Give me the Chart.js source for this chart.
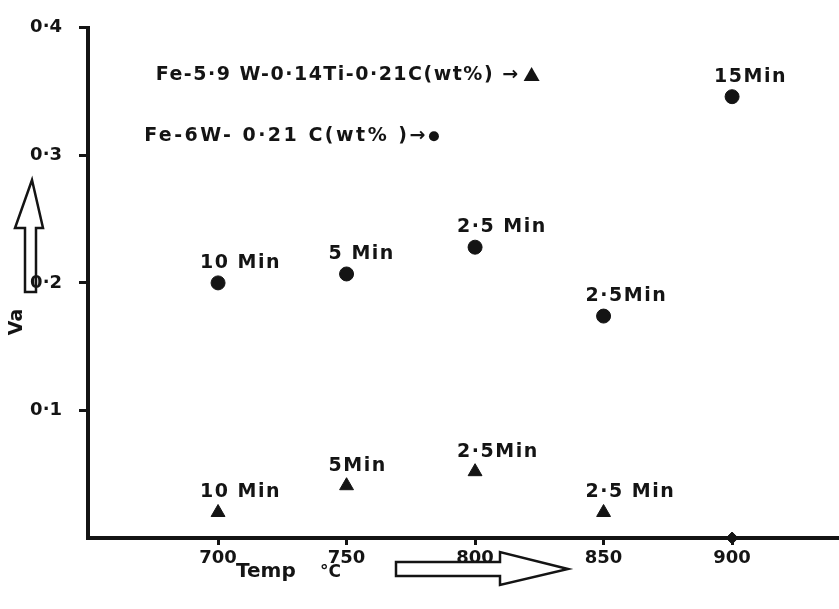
<!DOCTYPE html>
<html>
<head>
<meta charset="utf-8">
<script src="https://cdn.jsdelivr.net/npm/chart.js@4"></script>
<style>
  html, body { margin: 0; padding: 0; background: #fff; overflow: hidden; }
  canvas { display: block; }
</style>
</head>
<body>
<canvas id="grafico_va" width="839" height="609"></canvas>
<script>
// temperaturas (°C)
const temps_circulo = [700, 750, 800, 850, 900];
const va_circulo = [0.200, 0.207, 0.228, 0.174, 0.346];
const rotulos_circulo = ['10 Min', '5 Min', '2·5 Min', '2·5Min', '15Min'];

const temps_triangulo = [700, 750, 800, 850, 900];
const va_triangulo = [0.020, 0.041, 0.052, 0.020, 0.000];
const rotulos_triangulo = ['10 Min', '5Min', '2·5Min', '2·5 Min', ''];

const ticks_x = [700, 750, 800, 850, 900];
const ticks_y = [0.1, 0.2, 0.3, 0.4];

const legenda_textos = ['Fe-5·9 W-0·14Ti-0·21C(wt%) →', 'Fe-6W- 0·21 C(wt% )→'];
const legenda_pos = [[822, 0.363], [784, 0.315]];

const tinta = '#141414';
const fonte = 'bold 19px "DejaVu Sans", sans-serif';

const pontos = (xs, ys) => xs.map((x, i) => ({ x: x, y: ys[i] }));

const plugin_anotacoes = {
    id: 'anotacoes',
    afterDatasetsDraw(chart) {
        const ctx = chart.ctx;
        const sx = chart.scales.x, sy = chart.scales.y;
        ctx.save();
        ctx.fillStyle = tinta;
        ctx.strokeStyle = tinta;
        ctx.font = fonte;
        ctx.letterSpacing = '1.5px';
        ctx.textAlign = 'left';
        ctx.textBaseline = 'alphabetic';

        // rotulos dos pontos
        const rotulos = [rotulos_circulo, rotulos_triangulo];
        chart.data.datasets.forEach((ds, d) => {
            chart.getDatasetMeta(d).data.forEach((el, i) => {
                const txt = rotulos[d][i];
                if (txt) ctx.fillText(txt, el.x - 18, el.y - 15);
            });
        });

        // legenda escrita no grafico
        ctx.textAlign = 'right';
        ctx.textBaseline = 'middle';
        ctx.font = 'bold 19px "DejaVu Sans", sans-serif';
        legenda_pos.forEach((p, i) => {
            const px = sx.getPixelForValue(p[0]);
            const py = sy.getPixelForValue(p[1]);
            ctx.letterSpacing = i === 0 ? '1.5px' : '2.5px';
            ctx.fillText(legenda_textos[i], px - (i === 0 ? 12 : 6), py);
            ctx.beginPath();
            if (i === 0) {
                ctx.moveTo(px, py - 8);
                ctx.lineTo(px + 8, py + 6);
                ctx.lineTo(px - 8, py + 6);
                ctx.closePath();
            } else {
                ctx.arc(px, py, 5, 0, Math.PI * 2);
            }
            ctx.fill();
        });

        // titulos dos eixos
        ctx.letterSpacing = '0px';
        ctx.textAlign = 'left';
        ctx.textBaseline = 'alphabetic';
        ctx.font = 'bold 20px "DejaVu Sans", sans-serif';
        ctx.fillText('Temp', 236, 577);
        ctx.font = 'bold 17px "DejaVu Sans", sans-serif';
        ctx.fillText('°C', 320, 577);
        ctx.font = 'bold 19px "DejaVu Sans", sans-serif';
        ctx.save();
        ctx.translate(22, 322);
        ctx.rotate(-Math.PI / 2);
        ctx.textAlign = 'center';
        ctx.fillText('Va', 0, 0);
        ctx.restore();

        // setas
        ctx.lineWidth = 2.5;
        ctx.beginPath();
        ctx.moveTo(25, 292); ctx.lineTo(25, 228); ctx.lineTo(15, 228);
        ctx.lineTo(32, 180); ctx.lineTo(43, 228); ctx.lineTo(36, 228);
        ctx.lineTo(36, 292); ctx.closePath();
        ctx.stroke();
        ctx.beginPath();
        ctx.moveTo(396, 562); ctx.lineTo(500, 562); ctx.lineTo(500, 552);
        ctx.lineTo(568, 569); ctx.lineTo(500, 585); ctx.lineTo(500, 576);
        ctx.lineTo(396, 576); ctx.closePath();
        ctx.stroke();
        ctx.restore();
    }
};

new Chart(document.getElementById('grafico_va'), {
    type: 'scatter',
    data: {
        datasets: [{
            label: 'Fe-6W-0.21C',
            data: pontos(temps_circulo, va_circulo),
            pointStyle: 'circle',
            pointRadius: 7,
            backgroundColor: tinta,
            borderColor: tinta,
            clip: false
        }, {
            label: 'Fe-5.9W-0.14Ti-0.21C',
            data: pontos(temps_triangulo, va_triangulo),
            pointStyle: (c) => (c.raw && c.raw.y === 0 ? 'rectRot' : 'triangle'),
            pointRadius: (c) => (c.raw && c.raw.y === 0 ? 6 : 8),
            backgroundColor: tinta,
            borderColor: tinta,
            clip: false
        }]
    },
    options: {
        responsive: false,
        animation: false,
        layout: { autoPadding: false, padding: { top: 27, right: 0, left: 0, bottom: 0 } },
        plugins: { legend: { display: false }, tooltip: { enabled: false } },
        scales: {
            x: {
                type: 'linear',
                min: 649.4,
                max: 941.6,
                afterBuildTicks: (s) => { s.ticks = ticks_x.map(v => ({ value: v })); },
                afterFit: (s) => { s.height = 71; },
                border: { display: true, width: 4, color: tinta },
                grid: { drawOnChartArea: false, drawTicks: true, tickLength: 7, tickWidth: 3, color: tinta },
                ticks: {
                    color: tinta,
                    padding: 3,
                    font: { family: '"DejaVu Sans", sans-serif', size: 18, weight: 'bold' }
                }
            },
            y: {
                min: 0,
                max: 0.4,
                afterBuildTicks: (s) => { s.ticks = ticks_y.map(v => ({ value: v })); },
                afterFit: (s) => { s.width = 88; },
                border: { display: true, width: 4, color: tinta },
                grid: { drawOnChartArea: false, drawTicks: true, tickLength: 9, tickWidth: 3, color: tinta },
                ticks: {
                    color: tinta,
                    padding: 17,
                    callback: (v) => v.toFixed(1).replace('.', '·'),
                    font: { family: '"DejaVu Sans", sans-serif', size: 18, weight: 'bold' }
                }
            }
        }
    },
    plugins: [plugin_anotacoes]
});
</script>
</body>
</html>
